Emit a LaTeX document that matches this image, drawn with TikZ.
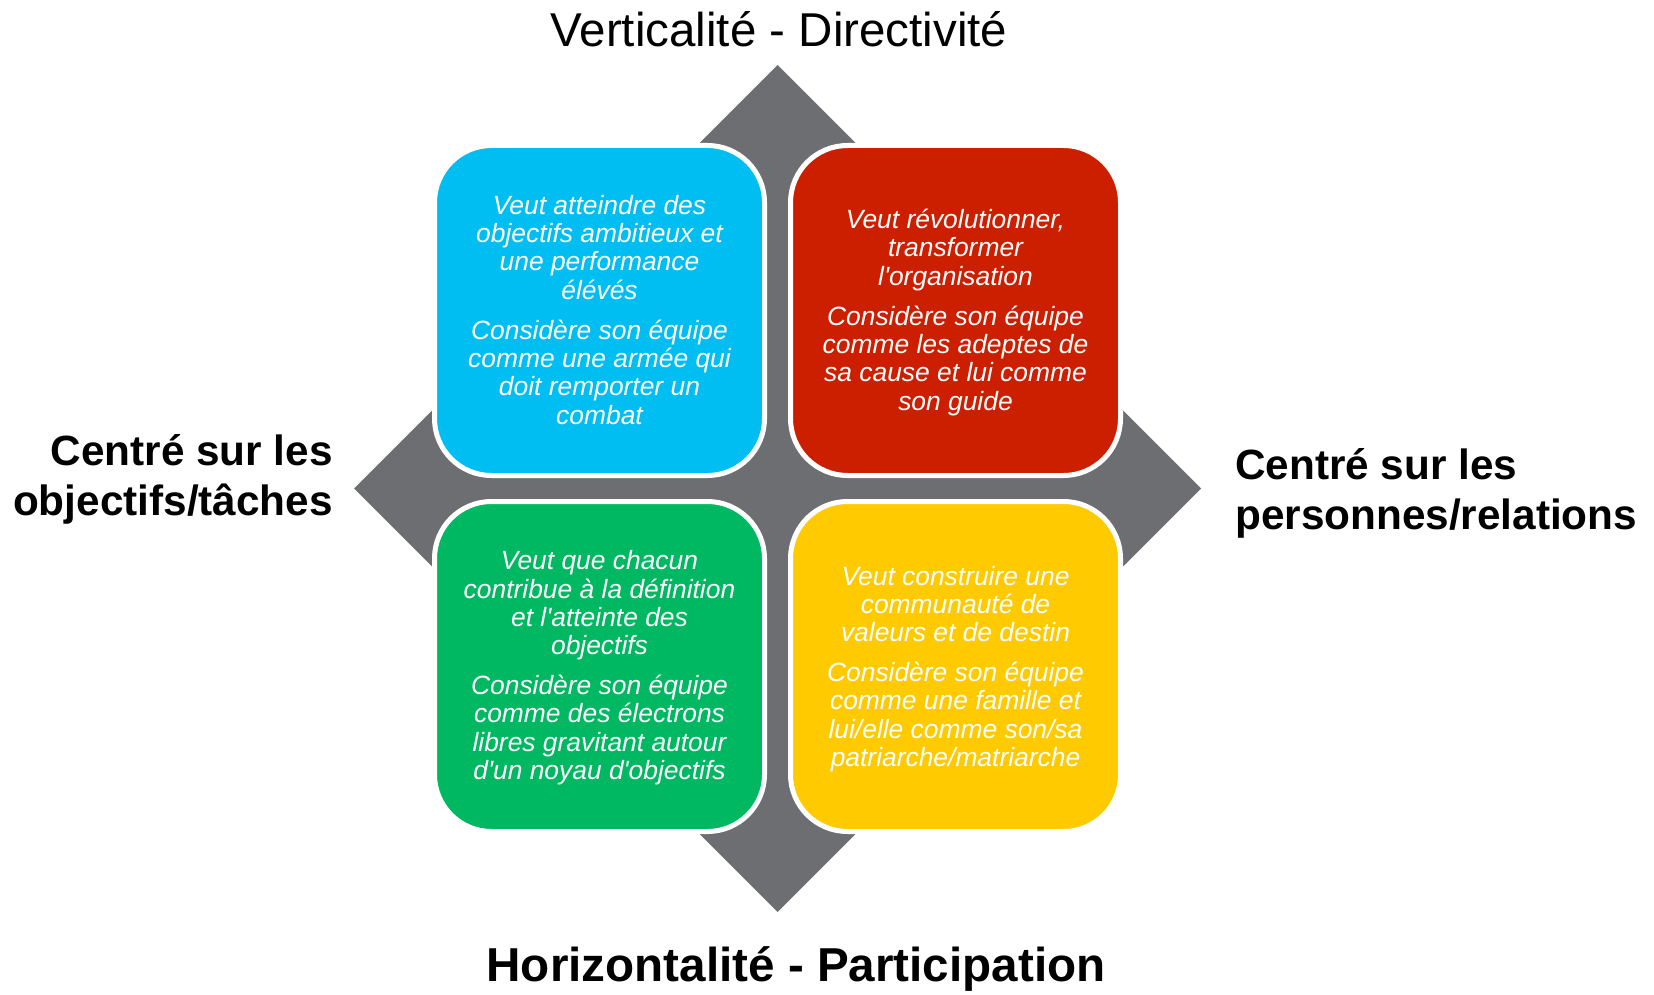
\documentclass[tikz,border=0pt]{standalone}
\usepackage{fontspec}
\setmainfont{Liberation Sans}
\definecolor{cblue}{HTML}{00BEF2}
\definecolor{cred}{HTML}{CC1F00}
\definecolor{cgreen}{HTML}{00B862}
\definecolor{cyellow}{HTML}{FFCA00}
\definecolor{cgray}{HTML}{6D6E71}
\newcommand{\apos}{\textquotesingle}
\tikzset{
  quad/.style={draw=white, line width=5pt, rounded corners=57pt},
  boxtext/.style={text=white, font=\fontsize{26.4}{28.3}\selectfont\itshape, align=center, inner sep=0pt, anchor=base},
  axistitle/.style={font=\fontsize{47.5}{57}\selectfont, inner sep=0pt, anchor=base},
  sidelabel/.style={font=\fontsize{42.3}{50}\selectfont\bfseries, inner sep=0pt}
}
\begin{document}
\begin{tikzpicture}[x=1pt,y=-1pt]
\useasboundingbox[fill=white] (0,0) rectangle (1654,995);
% diamond
\fill[cgray] (354,488.5) -- (777.5,65) -- (1201,488.5) -- (777.5,912) -- cycle;
% quadrants
\draw[quad, fill=cblue]   (434.5,145.5) rectangle (764.5,475.5);
\draw[quad, fill=cred]    (790.5,145.5) rectangle (1120.5,475.5);
\draw[quad, fill=cgreen]  (434.5,501.5) rectangle (764.5,831.5);
\draw[quad, fill=cyellow] (790.5,501.5) rectangle (1120.5,831.5);
% texts (base anchor = baseline of the last line)
\node[boxtext] (tblue) at (599.5,424) {Veut atteindre des\\objectifs ambitieux et\\une performance\\élévés\\[11.7pt]Considère son équipe\\comme une armée qui\\doit remporter un\\combat};
\node[boxtext] (tred) at (955.5,410) {Veut révolutionner,\\transformer\\l\apos organisation\\[11.7pt]Considère son équipe\\comme les adeptes de\\sa cause et lui comme\\son guide};
\node[boxtext] (tgreen) at (599.5,779.5) {Veut que chacun\\contribue à la définition\\et l\apos atteinte des\\objectifs\\[11.7pt]Considère son équipe\\comme des électrons\\libres gravitant autour\\d\apos un noyau d\apos objectifs};
\node[boxtext] (tyellow) at (955.5,766.5) {Veut construire une\\communauté de\\valeurs et de destin\\[11.7pt]Considère son équipe\\comme une famille et\\lui/elle comme son/sa\\patriarche/matriarche};
% axis labels
\node[axistitle] (top) at (779,46.7) {Verticalité - Directivité};
\node[axistitle, font=\fontsize{47.6}{57}\selectfont\bfseries] (bottom) at (796,981.7) {Horizontalité - Participation};
\node[sidelabel, align=right, anchor=base east] (left) at (333,515) {Centré sur les\\objectifs/tâches};
\node[sidelabel, align=left, anchor=base west] (right) at (1235,529.5) {Centré sur les\\personnes/relations};
\end{tikzpicture}
\end{document}
